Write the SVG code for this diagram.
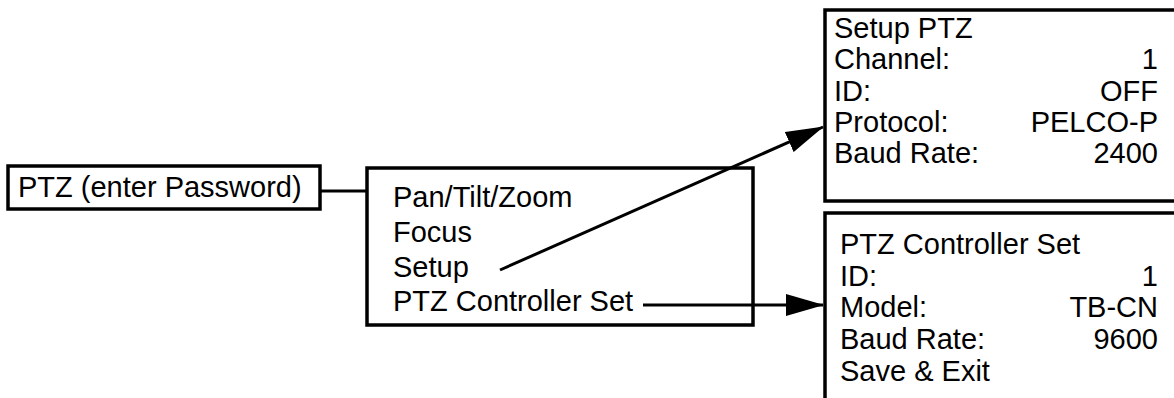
<svg xmlns="http://www.w3.org/2000/svg" width="1174" height="398" viewBox="0 0 1174 398">
<style>
.box{fill:none;stroke:#000;stroke-width:3.5}
.ln{fill:none;stroke:#000;stroke-width:3}
text{font-family:"Liberation Sans",Arial,Helvetica,sans-serif;font-size:29px;fill:#000}
.r{text-anchor:end}
</style>
<defs>
<marker id="ah" markerUnits="userSpaceOnUse" markerWidth="38" markerHeight="23" refX="37" refY="11" orient="auto" viewBox="0 0 38 22">
<path d="M0,0 L38,11 L0,22 z" fill="#000"/>
</marker>
</defs>
<rect width="1174" height="398" fill="#fff"/>
<g id="connectors">
<line class="ln" x1="320" y1="191" x2="367" y2="191"/>
<line class="ln" x1="500" y1="270" x2="823" y2="127" marker-end="url(#ah)"/>
<line class="ln" x1="643" y1="305" x2="823" y2="305" marker-end="url(#ah)"/>
</g>
<g id="ptz-password">
<rect class="box" x="8" y="166" width="312" height="43"/>
<text x="18" y="197">PTZ (enter Password)</text>
</g>
<g id="ptz-menu">
<rect class="box" x="367" y="168" width="386" height="157"/>
<text x="393" y="207">Pan/Tilt/Zoom</text>
<text x="393" y="242">Focus</text>
<text x="393" y="277">Setup</text>
<text x="393" y="311">PTZ Controller Set</text>
</g>
<g id="setup-ptz">
<rect class="box" x="825" y="10" width="360" height="191"/>
<text x="834" y="38">Setup PTZ</text>
<text x="834" y="69">Channel:</text>
<text x="1158" y="69" class="r">1</text>
<text x="834" y="101">ID:</text>
<text x="1158" y="101" class="r">OFF</text>
<text x="834" y="132">Protocol:</text>
<text x="1158" y="132" class="r">PELCO-P</text>
<text x="834" y="163">Baud Rate:</text>
<text x="1158" y="163" class="r">2400</text>
</g>
<g id="ptz-controller-set">
<path class="box" d="M1180,213 H825 V402"/>
<text x="840" y="254">PTZ Controller Set</text>
<text x="840" y="286">ID:</text>
<text x="1158" y="286" class="r">1</text>
<text x="840" y="317">Model:</text>
<text x="1158" y="317" class="r">TB-CN</text>
<text x="840" y="349">Baud Rate:</text>
<text x="1158" y="349" class="r">9600</text>
<text x="840" y="381">Save &amp; Exit</text>
</g>
</svg>
